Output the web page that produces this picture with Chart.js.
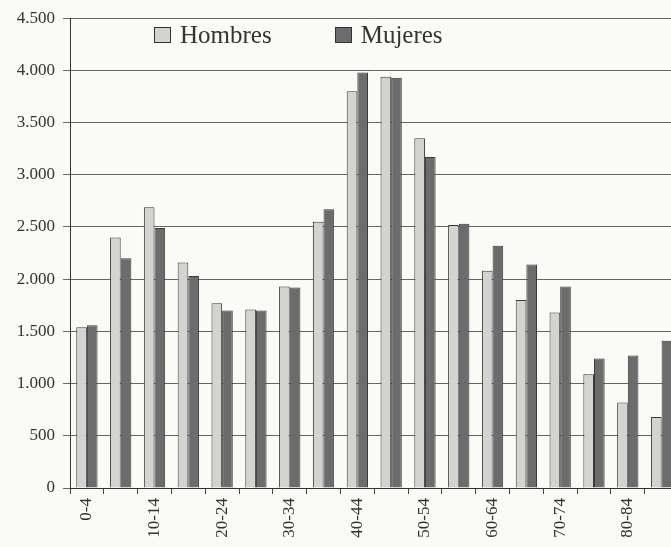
<!DOCTYPE html>
<html>
<head>
<meta charset="utf-8">
<script src="https://cdn.jsdelivr.net/npm/chart.js@4"></script>
<style>
    html, body { margin: 0; padding: 0; background: #fafaf7; overflow: hidden; }
    body { width: 671px; height: 547px; position: relative; }
    #wrap { position: absolute; left: 0; top: 0; width: 686px; height: 547px; }
    #leyenda {
        position: absolute; top: 21px; left: 154px;
        font-family: "Liberation Serif", "DejaVu Serif", serif; font-size: 25px; color: #333;
        display: flex;
    }
    #leyenda span.item { display: inline-flex; align-items: center; }
    #leyenda span.box { display: inline-block; width: 15px; height: 14px; border: 1px solid #333; margin-right: 9px; }
</style>
</head>
<body>
<div id="wrap"><canvas id="graph"></canvas></div>
<div id="leyenda"></div>
<script>
const edades = ['0-4', '5-9', '10-14', '15-19', '20-24', '25-29', '30-34', '35-39', '40-44',
    '45-49', '50-54', '55-59', '60-64', '65-69', '70-74', '75-79', '80-84', '85+'];
const hombres = [1540, 2400, 2690, 2160, 1770, 1710, 1930, 2550, 3800,
    3940, 3350, 2520, 2080, 1800, 1680, 1090, 820, 680];
const mujeres = [1560, 2200, 2490, 2030, 1700, 1700, 1920, 2670, 3980,
    3930, 3170, 2530, 2320, 2140, 1930, 1240, 1270, 1410];
const colores = ['#d3d3d1', '#6c6c6c'];

const fuente = { family: '"Liberation Serif", "DejaVu Serif", serif', size: 17 };

// Leyenda en HTML, dentro del area del grafico
const nombres = ['Hombres', 'Mujeres'];
const leyenda = document.getElementById('leyenda');
nombres.forEach((n, i) => {
    const item = document.createElement('span');
    item.className = 'item';
    item.style.marginRight = i === 0 ? '63px' : '0';
    item.innerHTML = '<span class="box" style="background:' + colores[i] + '"></span>' + n;
    leyenda.appendChild(item);
});

const ctx = document.getElementById('graph').getContext('2d');
new Chart(ctx, {
    type: 'bar',
    data: {
        labels: edades,
        datasets: [
            { label: 'Hombres', data: hombres, backgroundColor: colores[0], borderColor: '#3a3a3a', borderWidth: 1 },
            { label: 'Mujeres', data: mujeres, backgroundColor: colores[1], borderColor: '#3a3a3a', borderWidth: 1 }
        ]
    },
    options: {
        responsive: true,
        maintainAspectRatio: false,
        animation: false,
        layout: { padding: { top: 17, right: 0, left: 0, bottom: 0 } },
        datasets: { bar: { categoryPercentage: 0.63, barPercentage: 1.0 } },
        plugins: {
            legend: { display: false },
            tooltip: { enabled: false }
        },
        scales: {
            x: {
                afterFit: scale => { scale.height = 59; },
                grid: { display: true, drawOnChartArea: false, offset: true, tickLength: 6, color: '#444' },
                border: { color: '#333', width: 1 },
                ticks: {
                    autoSkip: false, minRotation: 90, maxRotation: 90, padding: 4,
                    color: '#333', font: fuente,
                    callback: function(val, i) { return i % 2 === 0 ? this.getLabelForValue(val) : ''; }
                }
            },
            y: {
                min: 0, max: 4500,
                afterFit: scale => { scale.width = 70; },
                grid: { color: '#666', lineWidth: 1, tickLength: 7 },
                border: { color: '#333', width: 1 },
                ticks: {
                    stepSize: 500, padding: 8, color: '#333', font: fuente,
                    callback: v => v >= 1000 ? Math.floor(v / 1000) + '.' + String(v % 1000).padStart(3, '0') : String(v)
                }
            }
        }
    }
});
</script>
</body>
</html>
